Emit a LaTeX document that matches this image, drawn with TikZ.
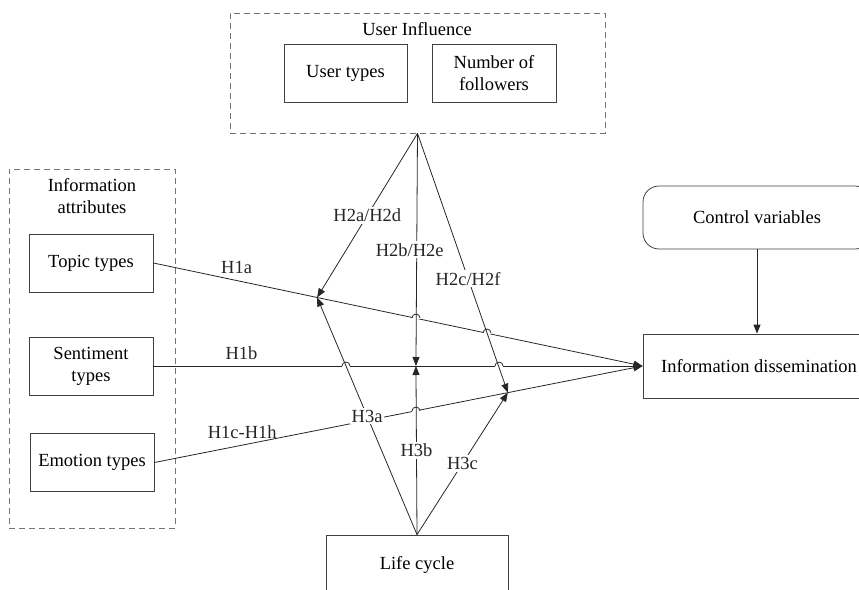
\documentclass[tikz,border=0pt]{standalone}
\usepackage{fontspec}
\setmainfont{Liberation Serif}
\usetikzlibrary{arrows.meta,calc}

\begin{document}
\begin{tikzpicture}[x=1pt, y=-1pt, font=\fontsize{18.5}{22}\selectfont,
	factor/.style = {draw=black!75, line width=0.8pt, minimum width=124, minimum height=58, inner sep=0, align=center},
	grouping/.style = {draw=black!55, line width=0.8pt, dash pattern=on 6pt off 4pt, inner sep=0},
	path/.style = {line width=0.8pt, black!85, -{Triangle[length=9pt,width=7pt]}},
	hyp/.style = {fill=white, inner sep=2pt},]
	
	\useasboundingbox (0,0) rectangle (859,589);
	
	\node[grouping, minimum width=375, minimum height=120] (influence) at (417.5,73) {};
	\node (influencetitle) at (417,29) {User Influence};
	\node[factor, minimum width=123] (usertypes) at (345.5,73) {User types};
	\node[factor] (followers) at (494,73) {Number of\\followers};
	
	\node[grouping, minimum width=166, minimum height=359] (attributes) at (92,348.5) {};
	\node[align=center] (attributestitle) at (92,196) {Information\\attributes};
	\node[factor] (topic) at (91,263) {Topic types};
	\node[factor] (senti) at (91,366) {Sentiment\\types};
	\node[factor] (emotion) at (92,462.5) {Emotion types};
	
	\node[factor, minimum width=228, minimum height=63, rounded corners=16] (control) at (757,217.5) {Control variables};
	\node[factor, minimum width=232, minimum height=64] (dissem) at (759,366) {Information dissemination};
	\node[factor, minimum width=182, minimum height=60] (life) at (417,565) {Life cycle};
	
	% points where the moderating paths meet the main paths
	\coordinate (ta) at ($(topic.east)!0.3347!(dissem.west)$);
	\coordinate (tb) at ($(senti.east)!0.5367!(dissem.west)$);
	\coordinate (tc) at ($(emotion.east)!0.7239!(dissem.west)$);
	
	\draw[path] (topic.east) -- node[above=3pt, pos=0.17] {H1a} (dissem.west);
	\draw[path] (senti.east) -- node[above=3pt, pos=0.18] {H1b} (dissem.west);
	\draw[path] (emotion.east) -- node[above=3pt, pos=0.18] {H1c-H1h} (dissem.west);
	\draw[path] (control.south) -- (control.south |- dissem.north);
	
	% line jumps
	\foreach \p in {(416,318),(487,333),(346,366),(499,366),(416,411)} {
		\fill[white] \p ++(-4.4,-1.3) rectangle ++(8.8,2.6);
		\draw[line width=0.8pt, black!85] \p ++(-4,0) arc (180:360:4);
	}
	
	\draw[path] (influence.south) -- node[hyp, pos=0.5] {H2a/H2d} (ta);
	\draw[path] (influence.south) -- node[hyp, pos=0.5, xshift=-7pt] {H2b/H2e} (tb);
	\draw[path] (influence.south) -- node[hyp, pos=0.56] {H2c/H2f} (tc);
	
	\draw[path] (life.north) -- node[hyp, pos=0.5] {H3a} (ta);
	\draw[path] (life.north) -- node[hyp, pos=0.5] {H3b} (tb);
	\draw[path] (life.north) -- node[hyp, pos=0.5] {H3c} (tc);
	
\end{tikzpicture}
\end{document}
